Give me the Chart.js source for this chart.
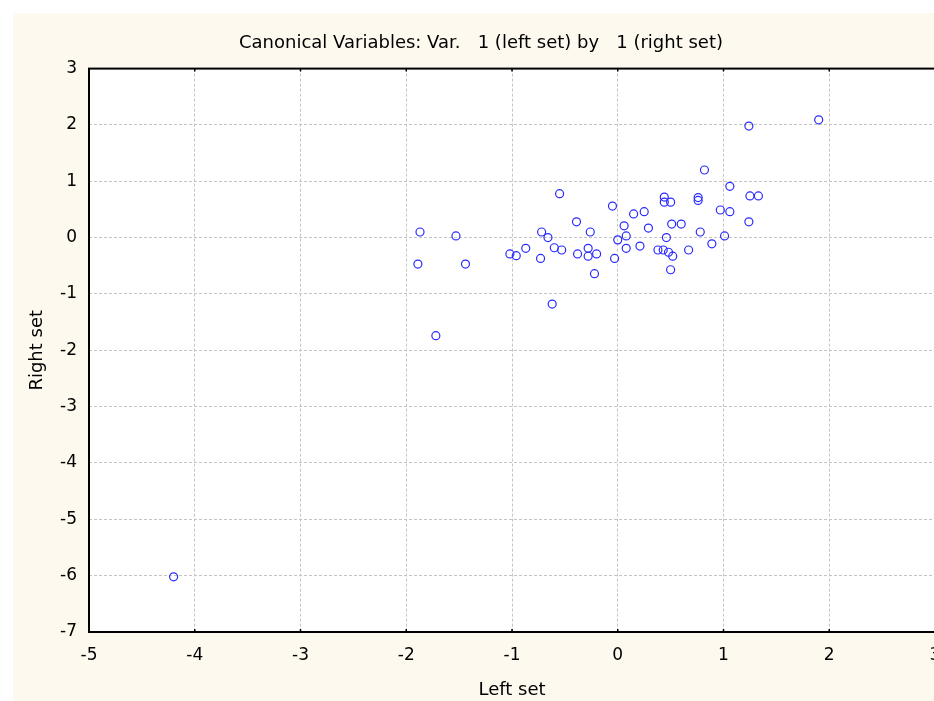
<!DOCTYPE html>
<html>
<head>
<meta charset="utf-8">
<script src="https://cdn.jsdelivr.net/npm/chart.js@4"></script>
<style>
  html, body { margin: 0; padding: 0; background: #fff; overflow: hidden; }
  #wrap { position: absolute; left: 13px; top: 13px; width: 960px; height: 688px; background: #fdf9ef; }
</style>
</head>
<body>
<div id="wrap"><canvas id="chart" width="960" height="688"></canvas></div>
<script>
// canonical scores
const leftSet = [-4.20, -1.89, -1.87, -1.72, -1.53, -1.44, -1.02, -0.96, -0.87, -0.73,
  -0.72, -0.66, -0.62, -0.60, -0.55, -0.53, -0.39, -0.38, -0.28, -0.28,
  -0.26, -0.22, -0.20, -0.05, -0.03, 0.00, 0.06, 0.08, 0.08, 0.15,
  0.21, 0.25, 0.29, 0.38, 0.43, 0.44, 0.44, 0.46, 0.48, 0.50,
  0.50, 0.51, 0.52, 0.60, 0.67, 0.76, 0.76, 0.78, 0.82, 0.89,
  0.97, 1.01, 1.06, 1.06, 1.24, 1.24, 1.25, 1.33, 1.90]
const rightSet = [-6.02, -0.47, 0.10, -1.74, 0.03, -0.47, -0.29, -0.32, -0.19, -0.37,
  0.10, 0.00, -1.18, -0.18, 0.78, -0.22, 0.28, -0.29, -0.19, -0.33,
  0.10, -0.64, -0.29, 0.56, -0.37, -0.04, 0.21, 0.03, -0.19, 0.42,
  -0.15, 0.46, 0.17, -0.22, -0.22, 0.72, 0.63, 0.00, -0.26, 0.63,
  -0.57, 0.24, -0.33, 0.24, -0.22, 0.71, 0.66, 0.10, 1.20, -0.11,
  0.49, 0.03, 0.91, 0.46, 1.98, 0.28, 0.74, 0.74, 2.09]

const xRange = [-5, 3]
const yRange = [-7, 3]

const fontFamily = '"DejaVu Sans", sans-serif'

const framePlugin = {
  id: 'frame',
  beforeDraw(chart) {
    const {ctx, chartArea: a} = chart
    ctx.save()
    ctx.fillStyle = '#ffffff'
    ctx.fillRect(a.left, a.top, a.right - a.left, a.bottom - a.top)
    ctx.restore()
  },
  afterDatasetsDraw(chart) {
    const {ctx, chartArea: a, scales} = chart
    ctx.save()
    ctx.strokeStyle = '#000'
    ctx.lineWidth = 2
    ctx.strokeRect(a.left, a.top, a.right - a.left, a.bottom - a.top)
    ctx.lineWidth = 1.5
    ctx.beginPath()
    scales.x.ticks.forEach(t => {
      const px = scales.x.getPixelForValue(t.value)
      ctx.moveTo(px, a.top); ctx.lineTo(px, a.top + 3)
      ctx.moveTo(px, a.bottom); ctx.lineTo(px, a.bottom - 3)
    })
    ctx.stroke()
    ctx.restore()
  }
}

const ctx = document.getElementById('chart').getContext('2d')
const chart = new Chart(ctx, {
  type: 'scatter',
  data: {
    datasets: [{
      data: leftSet.map((x, i) => ({x: x, y: rightSet[i]})),
      pointRadius: 4,
      pointBorderWidth: 1.2,
      pointBorderColor: '#2a2aff',
      pointBackgroundColor: 'rgba(0,0,0,0)',
      pointHoverRadius: 4
    }]
  },
  plugins: [framePlugin],
  options: {
    responsive: false,
    animation: false,
    devicePixelRatio: 1,
    layout: { padding: { left: 14, right: 38, top: 0, bottom: 0 } },
    plugins: {
      legend: { display: false },
      tooltip: { enabled: false },
      title: {
        display: true,
        text: 'Canonical Variables: Var.   1 (left set) by   1 (right set)',
        color: '#000',
        font: { family: fontFamily, size: 18, weight: 'normal' },
        padding: { top: 19.5, bottom: 14.5 }
      }
    },
    scales: {
      x: {
        type: 'linear',
        min: xRange[0], max: xRange[1],
        afterFit: s => { s.height = 69 },
        ticks: { stepSize: 1, color: '#000', padding: 13, font: { family: fontFamily, size: 17 } },
        grid: { color: '#c4c4c4', lineWidth: 1, tickLength: 0, drawTicks: false },
        border: { display: false, dash: [3, 2] },
        title: { display: true, text: 'Left set', color: '#000', font: { family: fontFamily, size: 18 }, padding: { top: 0, bottom: 0 } }
      },
      y: {
        type: 'linear',
        min: yRange[0], max: yRange[1],
        afterFit: s => { s.width = 62 },
        ticks: { stepSize: 1, color: '#000', padding: 12, font: { family: fontFamily, size: 17 } },
        grid: { color: '#c4c4c4', lineWidth: 1, tickLength: 0, drawTicks: false },
        border: { display: false, dash: [3, 2] },
        title: { display: true, text: 'Right set', color: '#000', font: { family: fontFamily, size: 18 }, padding: { top: 0, bottom: 0 } }
      }
    }
  }
})
</script>
</body>
</html>
